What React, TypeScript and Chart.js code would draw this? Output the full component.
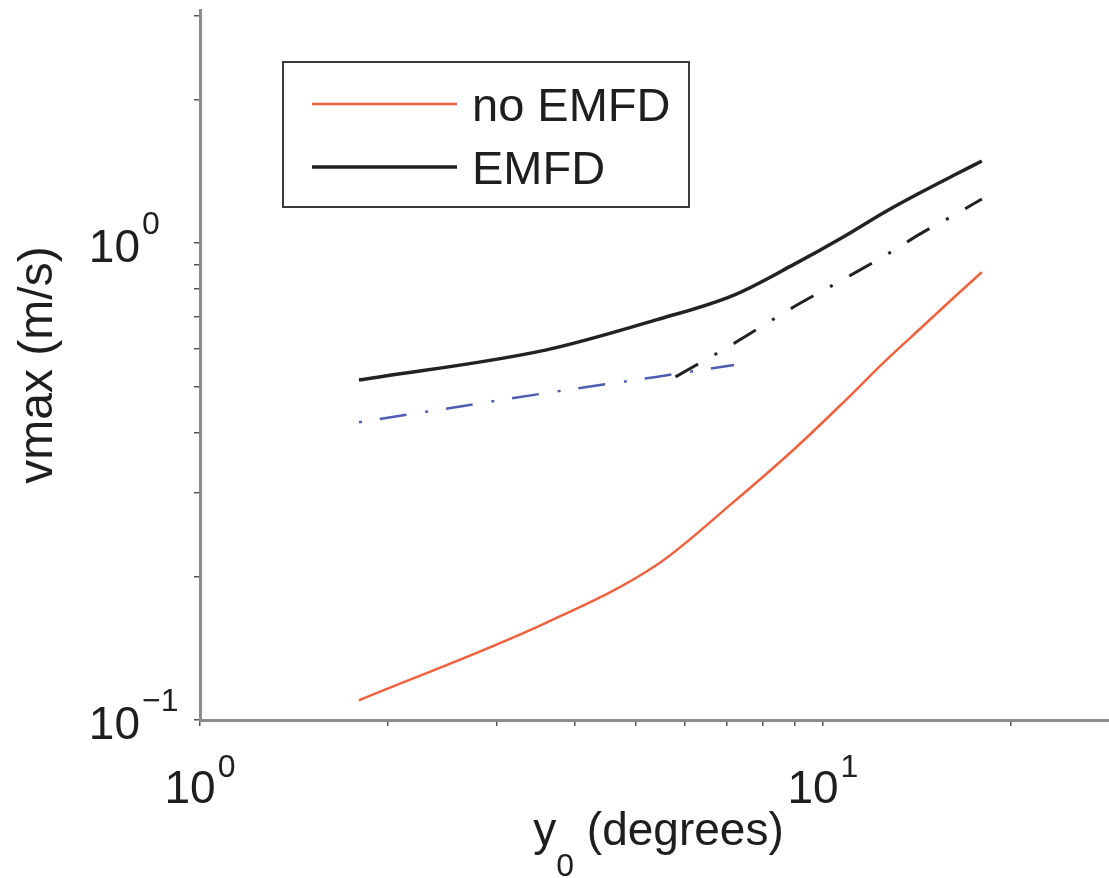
import React, { useEffect, useRef } from 'react';
import { Chart, registerables } from 'chart.js';

Chart.register(...registerables);

// ---- data ----
const xValues = [1.8, 3.6, 5.4, 7.2, 9.0, 10.8, 12.6, 14.4, 16.2, 18.0];
const noEmfdValues = [0.110, 0.160, 0.211, 0.287, 0.370, 0.464, 0.566, 0.665, 0.767, 0.869];
const emfdValues = [0.516, 0.597, 0.690, 0.778, 0.903, 1.031, 1.163, 1.279, 1.385, 1.486];
const emfdBlueX = [1.8, 3.6, 5.4, 7.2];
const emfdBlueValues = [0.421, 0.485, 0.524, 0.555];
const emfdDashX = [5.8, 7.2, 9.0, 10.8, 12.6, 14.4, 16.2, 18.0];
const emfdDashValues = [0.524, 0.616, 0.736, 0.840, 0.942, 1.049, 1.142, 1.237];

const legendLabels = ['no EMFD', 'EMFD'];
const xTickValues = [1, 10];
const xTickExponents = ['0', '1'];
const yTickValues = [0.1, 1];
const yTickExponents = ['\u22121', '0'];
const xTitleMain = 'y';
const xTitleSub = '0';
const xTitleRest = ' (degrees)';
const yTitle = 'vmax (m/s)';

const FONT = '"Liberation Sans", Arial, Helvetica, sans-serif';
const TEXT = '#1e1e1e';

const toPoints = (xs: number[], ys: number[]) => xs.map((x, i) => ({ x, y: ys[i] }));

const filterTicks = (scale: any) => {
  scale.ticks = scale.ticks.filter((t: any) => {
    const e = Math.floor(Math.log10(t.value) + 1e-9);
    const m = t.value / Math.pow(10, e);
    return Math.abs(m - Math.round(m)) < 1e-6;
  });
};

const textPlugin = {
  id: 'customText',
  afterDraw(chart: any) {
    const { ctx, chartArea, scales } = chart;
    const xs = scales.x;
    const ys = scales.y;
    ctx.save();
    ctx.fillStyle = TEXT;
    ctx.textBaseline = 'alphabetic';

    // y tick labels (10 with superscript)
    yTickValues.forEach((v, i) => {
      const py = ys.getPixelForValue(v);
      const baseX = chartArea.left - 60;
      ctx.font = `46px ${FONT}`;
      ctx.textAlign = 'right';
      ctx.fillText('10', baseX, py + 19);
      ctx.font = `32px ${FONT}`;
      ctx.textAlign = 'left';
      ctx.fillText(yTickExponents[i], baseX + 2, py - 9);
    });

    // x tick labels
    xTickValues.forEach((v, i) => {
      const px = xs.getPixelForValue(v);
      ctx.font = `46px ${FONT}`;
      const w1 = ctx.measureText('10').width;
      ctx.font = `32px ${FONT}`;
      const w2 = ctx.measureText(xTickExponents[i]).width;
      const start = px - (w1 + 2 + w2) / 2;
      ctx.textAlign = 'left';
      ctx.font = `46px ${FONT}`;
      ctx.fillText('10', start, chartArea.bottom + 83);
      ctx.font = `32px ${FONT}`;
      ctx.fillText(xTickExponents[i], start + w1 + 2, chartArea.bottom + 57);
    });

    // x axis title with subscript
    ctx.font = `46px ${FONT}`;
    const wMain = ctx.measureText(xTitleMain).width;
    const wRest = ctx.measureText(xTitleRest).width;
    ctx.font = `32px ${FONT}`;
    const wSub = ctx.measureText(xTitleSub).width;
    const total = wMain + wSub + wRest;
    const center = (chartArea.left + chartArea.right) / 2 + 4;
    let tx = center - total / 2;
    const base = chartArea.bottom + 125;
    ctx.textAlign = 'left';
    ctx.font = `46px ${FONT}`;
    ctx.fillText(xTitleMain, tx, base);
    tx += wMain;
    ctx.font = `32px ${FONT}`;
    ctx.fillText(xTitleSub, tx, base + 31);
    tx += wSub;
    ctx.font = `46px ${FONT}`;
    ctx.fillText(xTitleRest, tx, base);

    // legend box
    const lx = chartArea.left + 83;
    const ly = chartArea.top + 52;
    ctx.lineWidth = 2;
    ctx.strokeStyle = '#3a3a3a';
    ctx.strokeRect(lx, ly, 406, 145);
    const rows = [42, 105];
    legendLabels.forEach((label, i) => {
      const ds = chart.data.datasets[i];
      const yy = ly + rows[i];
      ctx.beginPath();
      ctx.setLineDash([]);
      ctx.lineWidth = ds.borderWidth;
      ctx.strokeStyle = ds.borderColor;
      ctx.moveTo(lx + 29, yy);
      ctx.lineTo(lx + 174, yy);
      ctx.stroke();
      ctx.font = `47px ${FONT}`;
      ctx.fillStyle = TEXT;
      ctx.fillText(label, lx + 189, yy + 17);
    });
    ctx.restore();
  },
};

const gridOpts = {
  drawOnChartArea: false,
  drawTicks: true,
  tickLength: 6,
  color: '#555555',
  lineWidth: 1.5,
};
const borderOpts = { display: true, color: '#8c8c8c', width: 3 };

export default function App() {
  const ref = useRef<HTMLCanvasElement>(null);

  useEffect(() => {
    document.body.style.margin = '0';
    const chart = new Chart(ref.current as HTMLCanvasElement, {
      type: 'line',
      data: {
        datasets: [
          {
            label: legendLabels[0],
            data: toPoints(xValues, noEmfdValues),
            borderColor: '#f0623e',
            borderWidth: 2.5,
            pointRadius: 0,
            cubicInterpolationMode: 'monotone',
          },
          {
            label: legendLabels[1],
            data: toPoints(xValues, emfdValues),
            borderColor: '#222222',
            borderWidth: 3.5,
            pointRadius: 0,
            cubicInterpolationMode: 'monotone',
          },
          {
            label: 'EMFD (dash-dot, blue)',
            data: toPoints(emfdBlueX, emfdBlueValues),
            borderColor: '#4f5cb4',
            borderWidth: 2.5,
            borderDash: [3, 18, 27, 19],
            pointRadius: 0,
            tension: 0,
          },
          {
            label: 'EMFD (dash-dot, black)',
            data: toPoints(emfdDashX, emfdDashValues),
            borderColor: '#222222',
            borderWidth: 3,
            borderDash: [26, 19, 3, 19],
            pointRadius: 0,
            cubicInterpolationMode: 'monotone',
          },
        ],
      },
      options: {
        animation: false,
        responsive: false,
        maintainAspectRatio: false,
        layout: { padding: { top: 10, left: 0, right: 0, bottom: 0 } },
        plugins: {
          legend: { display: false },
          tooltip: { enabled: false },
          title: { display: false },
        },
        scales: {
          x: {
            type: 'logarithmic',
            position: 'bottom',
            min: 1,
            max: 28.8,
            afterBuildTicks: filterTicks,
            afterFit: (s: any) => {
              s.height = 158;
            },
            ticks: { display: false },
            grid: gridOpts,
            border: borderOpts,
          },
          y: {
            type: 'logarithmic',
            position: 'left',
            min: 0.1,
            max: 3.08,
            afterBuildTicks: filterTicks,
            afterFit: (s: any) => {
              s.width = 200;
            },
            ticks: { display: false },
            grid: gridOpts,
            border: borderOpts,
            title: {
              display: true,
              text: yTitle,
              color: TEXT,
              font: { size: 48, family: FONT },
              padding: { top: 10, bottom: 0 },
            },
          },
        },
      } as any,
      plugins: [textPlugin],
    });
    return () => chart.destroy();
  }, []);

  return (
    <div style={{ position: 'absolute', left: 0, top: 0, width: 1109, height: 878, background: '#ffffff' }}>
      <canvas ref={ref} width={1109} height={878} style={{ display: 'block' }} />
    </div>
  );
}
